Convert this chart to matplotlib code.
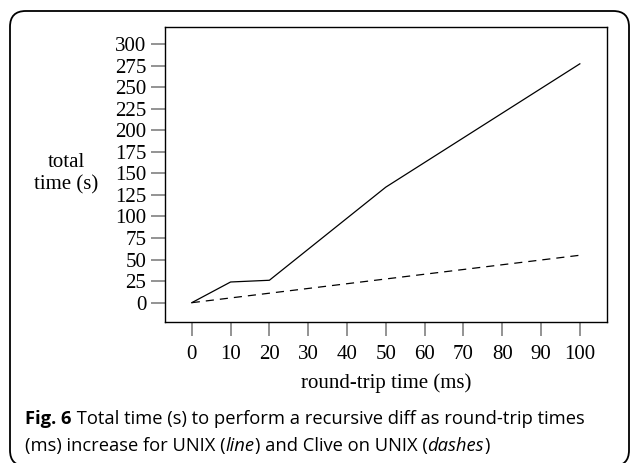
import matplotlib
matplotlib.use("Agg")
import matplotlib.pyplot as plt
from matplotlib.patches import FancyBboxPatch

# data
rtt_ms = [0, 10, 20, 50, 100]
unix_total = [0, 24, 26, 134, 277]
clive_total = [0, 5.5, 11, 27.5, 55]
xticks = list(range(0, 101, 10))
yticks = list(range(0, 301, 25))

W, H = 630, 463
fig = plt.figure(figsize=(W / 100, H / 100), dpi=100)

# rounded outer frame (bottom edge runs off the image)
box = FancyBboxPatch((10 / W, -3 / H), 619 / W, (H - 8) / H,
                     boxstyle="round,pad=0,rounding_size=0.025",
                     transform=fig.transFigure, fill=False,
                     edgecolor="black", linewidth=1.3, mutation_aspect=W / H)
fig.patches.append(box)

ax = fig.add_axes([165 / W, 1 - 322 / H, (607 - 165) / W, (322 - 27) / H])
serif = "Liberation Serif"

ax.plot(rtt_ms, unix_total, color="black", linewidth=0.9)
ax.plot(rtt_ms, clive_total, color="black", linewidth=0.9, dashes=(6.5, 4.8))

ax.set_xlim(-6.9, 107)
ax.set_ylim(-22.4, 319.7)
ax.set_xticks(xticks)
ax.set_yticks(yticks)
ax.tick_params(direction="out", length=10, width=1.2, color="#808080",
               labelsize=15, pad=3.5)
ax.tick_params(axis="x", pad=6.5)
for lab in ax.get_xticklabels() + ax.get_yticklabels():
    lab.set_fontfamily(serif)
for sp in ax.spines.values():
    sp.set_linewidth(1.0)

ax.set_xlabel("round-trip time (ms)", fontsize=15, fontfamily=serif, labelpad=7)
fig.text(66 / W, 1 - 174 / H, "total\ntime (s)", ha="center", va="center",
         fontsize=15, fontfamily=serif, linespacing=1.25)

# caption with mixed bold / italic pieces
sans = "Open Sans"
fig.canvas.draw()
renderer = fig.canvas.get_renderer()


def caption_line(pieces, x_px, y_px):
    x = x_px
    for txt, weight, style in pieces:
        t = fig.text(x / W, 1 - y_px / H, txt, fontsize=13.2, fontfamily=sans,
                     fontweight=weight, fontstyle=style, va="center", ha="left")
        x += t.get_window_extent(renderer).width


caption_line([("Fig. 6", "bold", "normal"),
              (" Total time (s) to perform a recursive diff as round-trip times",
               "normal", "normal")], 25, 419)
caption_line([("(ms) increase for UNIX (", "normal", "normal"),
              ("line", "normal", "italic"),
              (") and Clive on UNIX (", "normal", "normal"),
              ("dashes", "normal", "italic"),
              (")", "normal", "normal")], 25, 446)

fig.savefig("out.png", dpi=100)
